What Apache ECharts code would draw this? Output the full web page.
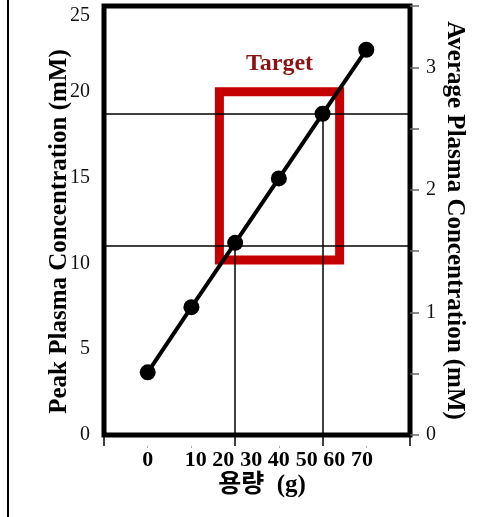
<!DOCTYPE html>
<html>
<head>
<meta charset="utf-8">
<script src="https://cdn.jsdelivr.net/npm/echarts@6.0.0/dist/echarts.min.js"></script>
<style>
  html, body { margin: 0; padding: 0; background: #fff; }
  #chart { width: 503px; height: 517px; }
</style>
</head>
<body>
<div id="chart"></div>
<script>
// dose (g) and peak plasma concentration (mM)
var dose = [0, 10, 20, 30, 40, 50];
var peak = [3.65, 7.45, 11.2, 14.95, 18.72, 22.45];

// x tick labels as printed (they sit where the original put them)
var xLabels = ['0', '10', '20', '30', '40', '50', '60', '70'];
var xLabelAt = [0, 11, 17.3, 23.7, 30, 36.4, 42.7, 49];

// reference lines
var refY = [11.0, 18.75];
var refX = [20, 40];

// target box: [xFrom, yFrom, xTo, yTo]
var target = [16.4, 10.2, 43.9, 20.0];

var serif = "'Liberation Serif', 'DejaVu Serif', serif";
var chart = echarts.init(document.getElementById('chart'));

var points = [];
for (var i = 0; i < dose.length; i++) {
    points.push([dose[i], peak[i]]);
}

var lines = [];
for (var j = 0; j < refY.length; j++) {
    lines.push([{coord: [-10, refY[j]]}, {coord: [60, refY[j]]}]);
}
for (var k = 0; k < refX.length; k++) {
    var yv = peak[dose.indexOf(refX[k])];
    if (k == 1) yv = refY[1];
    lines.push([{coord: [refX[k], yv]}, {coord: [refX[k], 0]}]);
}

var option = {
    animation: false,
    grid: {
        left: 104,
        right: 93,
        top: 6,
        bottom: 82,
        show: true,
        borderColor: '#000',
        borderWidth: 5,
        backgroundColor: '#fff'
    },
    xAxis: [{
            type: 'value',
            min: -10,
            max: 60,
            interval: 10,
            axisLine: { show: false, onZero: false },
            axisLabel: { show: false },
            splitLine: { show: false },
            axisTick: {
                show: true,
                length: 11,
                customValues: [-10, 20, 40, 60],
                lineStyle: { color: '#000', width: 1.5 }
            },
            name: '용량  (g)',
            nameLocation: 'middle',
            nameGap: 38,
            nameMoveOverlap: false,
            nameTextStyle: {
                fontFamily: "'Liberation Serif', 'Noto Sans CJK KR'",
                fontWeight: 'bold',
                fontSize: 25,
                color: '#000',
                padding: [0, 0, 0, 10]
            }
        },
        {
            type: 'value',
            position: 'bottom',
            offset: 11,
            min: -10,
            max: 60,
            axisLine: { show: false, onZero: false },
            splitLine: { show: false },
            axisTick: {
                show: true,
                length: 2,
                customValues: [0, 10, 30, 50],
                lineStyle: { color: '#aaa' }
            },
            axisLabel: {
                customValues: xLabelAt,
                margin: 3,
                fontFamily: serif,
                fontWeight: 'bold',
                fontSize: 22,
                color: '#000',
                formatter: function(v) {
                    var idx = xLabelAt.indexOf(v);
                    return idx >= 0 ? xLabels[idx] : '';
                }
            }
        }
    ],
    yAxis: [{
            type: 'value',
            position: 'left',
            min: 0,
            max: 25,
            interval: 5,
            axisLine: { show: false, onZero: false },
            axisTick: { show: false },
            splitLine: { show: false },
            axisLabel: {
                margin: 14,
                fontFamily: serif,
                fontSize: 20,
                color: '#111',
                verticalAlignMaxLabel: 'top'
            },
            name: 'Peak Plasma Concentration (mM)',
            nameLocation: 'middle',
            nameRotate: 90,
            nameGap: 32,
            nameMoveOverlap: false,
            nameTextStyle: {
                fontFamily: serif,
                fontWeight: 'bold',
                fontSize: 25,
                color: '#000',
                padding: [0, 22, 0, 0]
            }
        },
        {
            type: 'value',
            position: 'right',
            min: 0,
            max: 3.5,
            interval: 0.5,
            axisLine: { show: false, onZero: false },
            splitLine: { show: false },
            axisTick: {
                show: true,
                length: 9,
                lineStyle: { color: '#666', width: 1.5 }
            },
            axisLabel: {
                margin: 16,
                fontFamily: serif,
                fontSize: 20,
                color: '#111',
                formatter: function(v) {
                    return v % 1 === 0 ? String(v) : '';
                }
            },
            name: 'Average Plasma Concentration (mM)',
            nameLocation: 'middle',
            nameRotate: -90,
            nameGap: 32,
            nameMoveOverlap: false,
            nameTextStyle: {
                fontFamily: serif,
                fontWeight: 'bold',
                fontSize: 25,
                color: '#000'
            }
        }
    ],
    series: [{
        type: 'line',
        data: points,
        clip: false,
        symbol: 'circle',
        symbolSize: 16,
        lineStyle: { color: '#000', width: 4 },
        itemStyle: { color: '#000' },
        z: 5,
        markLine: {
            silent: true,
            symbol: 'none',
            label: { show: false },
            lineStyle: { color: '#000', width: 1.5, type: 'solid' },
            data: lines
        },
        markArea: {
            silent: true,
            itemStyle: {
                color: 'rgba(0,0,0,0)',
                borderColor: '#c40000',
                borderWidth: 9
            },
            label: {
                show: true,
                position: 'top',
                distance: 12,
                fontFamily: serif,
                fontWeight: 'bold',
                fontSize: 24,
                color: '#8b1212'
            },
            data: [[
                {name: 'Target', coord: [target[0], target[3]]},
                {coord: [target[2], target[1]]}
            ]]
        }
    }],
    graphic: [{
        type: 'line',
        shape: { x1: 8, y1: 0, x2: 8, y2: 517 },
        style: { stroke: '#000', lineWidth: 2 }
    }]
};

chart.setOption(option);
</script>
</body>
</html>
